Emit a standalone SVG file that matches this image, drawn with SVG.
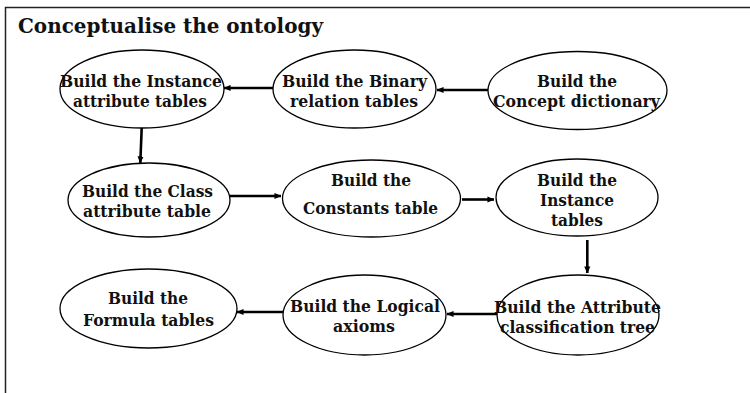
<svg xmlns="http://www.w3.org/2000/svg" width="750" height="393" viewBox="0 0 750 393">
  <style>
    .node ellipse { fill: #fff; stroke: #000; stroke-width: 1.3; }
    .node text, .title { font-family: "DejaVu Serif", "Liberation Serif", serif; font-weight: bold; fill: #111; text-anchor: middle; }
    .node text { font-size: 17px; }
    .title { font-size: 19.5px; text-anchor: start; }
    .edges line { stroke: #000; stroke-width: 2.6; marker-end: url(#head); }
  </style>
  <defs>
    <marker id="head" viewBox="0 0 8 8" refX="7.5" refY="4" markerWidth="7" markerHeight="7" markerUnits="userSpaceOnUse" orient="auto">
      <path d="M0,0.5 L8,4 L0,7.5 Z" fill="#000"/>
    </marker>
  </defs>

  <rect width="750" height="393" fill="#fff"/>
  <!-- frame -->
  <path d="M5.5,393 V7.5 H750" fill="none" stroke="#222" stroke-width="1.5"/>
  <text class="title" x="18" y="33" textLength="305" lengthAdjust="spacingAndGlyphs">Conceptualise the ontology</text>

  <!-- connectors -->
  <g class="edges">
    <line x1="273" y1="88" x2="224" y2="88"/>
    <line x1="488" y1="90" x2="437" y2="90"/>
    <line x1="141.7" y1="128" x2="140.3" y2="163"/>
    <line x1="228" y1="196" x2="281" y2="196"/>
    <line x1="462" y1="199.5" x2="494" y2="199.5"/>
    <line x1="587.3" y1="240" x2="587.3" y2="273"/>
    <line x1="497" y1="314" x2="447" y2="314"/>
    <line x1="283" y1="312" x2="237" y2="312"/>
  </g>

  <g id="instance-attribute-tables" class="node">
    <ellipse cx="142" cy="89" rx="82" ry="39"/>
    <text x="141" y="87" textLength="162" lengthAdjust="spacingAndGlyphs">Build the Instance</text>
    <text x="140" y="107" textLength="134" lengthAdjust="spacingAndGlyphs">attribute tables</text>
  </g>

  <g id="binary-relation-tables" class="node">
    <ellipse cx="354.5" cy="89" rx="81.5" ry="39"/>
    <text x="354.5" y="87" textLength="145" lengthAdjust="spacingAndGlyphs">Build the Binary</text>
    <text x="354" y="107" textLength="128" lengthAdjust="spacingAndGlyphs">relation tables</text>
  </g>

  <g id="concept-dictionary" class="node">
    <ellipse cx="577.5" cy="90.5" rx="89.5" ry="39"/>
    <text x="577" y="87" textLength="80" lengthAdjust="spacingAndGlyphs">Build the</text>
    <text x="576.5" y="107" textLength="167" lengthAdjust="spacingAndGlyphs">Concept dictionary</text>
  </g>

  <g id="class-attribute-table" class="node">
    <ellipse cx="149" cy="200" rx="81" ry="37"/>
    <text x="147.5" y="197" textLength="131" lengthAdjust="spacingAndGlyphs">Build the Class</text>
    <text x="147" y="217" textLength="128" lengthAdjust="spacingAndGlyphs">attribute table</text>
  </g>

  <g id="constants-table" class="node">
    <ellipse cx="371.5" cy="198.5" rx="89" ry="38.5"/>
    <text x="371" y="186" textLength="80" lengthAdjust="spacingAndGlyphs">Build the</text>
    <text x="370.5" y="213.5" textLength="135" lengthAdjust="spacingAndGlyphs">Constants table</text>
  </g>

  <g id="instance-tables" class="node">
    <ellipse cx="577" cy="197.5" rx="81" ry="38.5"/>
    <text x="577" y="186" textLength="80" lengthAdjust="spacingAndGlyphs">Build the</text>
    <text x="577" y="206" textLength="74" lengthAdjust="spacingAndGlyphs">Instance</text>
    <text x="577" y="226" textLength="52" lengthAdjust="spacingAndGlyphs">tables</text>
  </g>

  <g id="attribute-classification-tree" class="node">
    <ellipse cx="578" cy="315" rx="81" ry="40"/>
    <text x="577.5" y="313" textLength="167" lengthAdjust="spacingAndGlyphs">Build the Attribute</text>
    <text x="577.5" y="333" textLength="155" lengthAdjust="spacingAndGlyphs">classification tree</text>
  </g>

  <g id="logical-axioms" class="node">
    <ellipse cx="364.5" cy="315" rx="81.5" ry="40"/>
    <text x="365" y="312" textLength="150" lengthAdjust="spacingAndGlyphs">Build the Logical</text>
    <text x="364" y="332" textLength="62" lengthAdjust="spacingAndGlyphs">axioms</text>
  </g>

  <g id="formula-tables" class="node">
    <ellipse cx="148.5" cy="308.5" rx="88.5" ry="39.5"/>
    <text x="148" y="304" textLength="80" lengthAdjust="spacingAndGlyphs">Build the</text>
    <text x="148.5" y="326" textLength="131" lengthAdjust="spacingAndGlyphs">Formula tables</text>
  </g>
</svg>
